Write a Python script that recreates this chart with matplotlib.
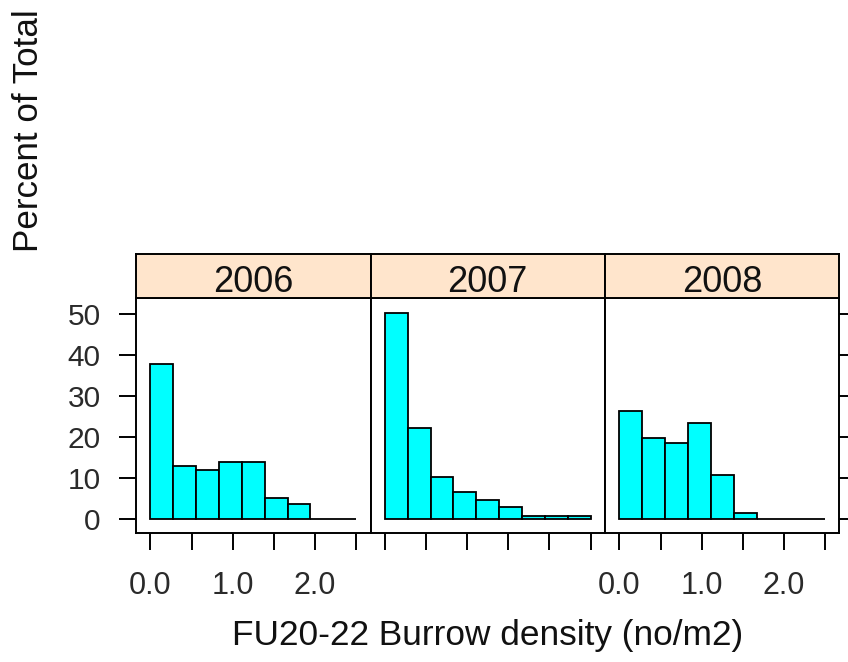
""" Histogrammes de la densité de terriers par année (style lattice) """
import matplotlib
import matplotlib.pyplot as plt
import numpy as np

matplotlib.use("Agg")  # Pas d'affichage

plt.rcParams["font.family"] = ["Liberation Sans", "DejaVu Sans"]

# Données (pourcentage du total par classe)
YEARS = ["2006", "2007", "2008"]
BIN_EDGES = np.linspace(0.0, 2.5, 10)  # 9 classes de 0 à 2.5
PCT_2006 = [37.9, 12.9, 12.0, 13.9, 13.9, 5.1, 3.6, 0.0, 0.0]
PCT_2007 = [50.4, 22.1, 10.1, 6.5, 4.6, 2.8, 0.7, 0.7, 0.7]
PCT_2008 = [26.4, 19.8, 18.5, 23.5, 10.6, 1.3, 0.0, 0.0, 0.0]
PERCENTS = [PCT_2006, PCT_2007, PCT_2008]
X_TICKS = [0.0, 0.5, 1.0, 1.5, 2.0, 2.5]
X_LABELS = ["0.0", "", "1.0", "", "2.0", ""]
Y_TICKS = [0, 10, 20, 30, 40, 50]

W, H = 848, 662
LEFT, RIGHT = 136, 839.5
TOP_PANEL, BOTTOM_PANEL = 298, 533
STRIP_TOP = 254
TICK_COLOR = "#2a2a2a"
LW = 1.4

fig = plt.figure(figsize=(W / 100, H / 100), dpi=100)
panel_w = (RIGHT - LEFT) / 3
widths = np.diff(BIN_EDGES)

for i, (year, pct) in enumerate(zip(YEARS, PERCENTS)):
	x0 = LEFT + i * panel_w
	ax = fig.add_axes([x0 / W, 1 - BOTTOM_PANEL / H, panel_w / W, (BOTTOM_PANEL - TOP_PANEL) / H])
	ax.bar(BIN_EDGES[:-1], pct, width=widths, align="edge", color="#00FFFF", edgecolor="black", linewidth=1.3)
	ax.set_xlim(-0.175, 2.675)
	ax.set_ylim(-3.55, 54.0)

	for side in ax.spines.values():
		side.set_linewidth(LW)

	# Axe x : graduations partout, étiquettes sur les panneaux 1 et 3 seulement
	ax.set_xticks(X_TICKS)
	ax.set_xticklabels(X_LABELS if i != 1 else [""] * len(X_TICKS))
	ax.tick_params(axis="x", direction="out", length=12.5, width=LW, pad=15, labelsize=22, labelcolor=TICK_COLOR)

	# Axe y : à gauche pour le premier, à droite pour le dernier
	ax.set_yticks(Y_TICKS)
	if i == 0:
		ax.tick_params(axis="y", direction="out", length=12.5, width=LW, pad=13, labelsize=21.5, labelcolor=TICK_COLOR)
	elif i == 2:
		ax.yaxis.tick_right()
		ax.tick_params(axis="y", direction="out", length=12.5, width=LW, labelright=False)
	else:
		ax.tick_params(axis="y", left=False, labelleft=False)

	# Bandeau de titre (strip)
	sx = fig.add_axes([x0 / W, 1 - TOP_PANEL / H, panel_w / W, (TOP_PANEL - STRIP_TOP) / H])
	sx.set_facecolor("#FFE5CC")
	sx.set_xticks([])
	sx.set_yticks([])
	for side in sx.spines.values():
		side.set_linewidth(LW)
	sx.text(0.5, 0.14, year, ha="center", va="baseline", fontsize=26, color="#111111", transform=sx.transAxes)

fig.text((LEFT + RIGHT) / 2 / W, 1 - 635 / H, "FU20-22 Burrow density (no/m2)", ha="center", va="center", fontsize=25.4,
		 color="#111111")
fig.text(28.5 / W, 1 - 131 / H, "Percent of Total", ha="center", va="center", rotation=90, fontsize=25.2, color="#111111")

fig.savefig("out.png", dpi=100)
plt.close(fig)
